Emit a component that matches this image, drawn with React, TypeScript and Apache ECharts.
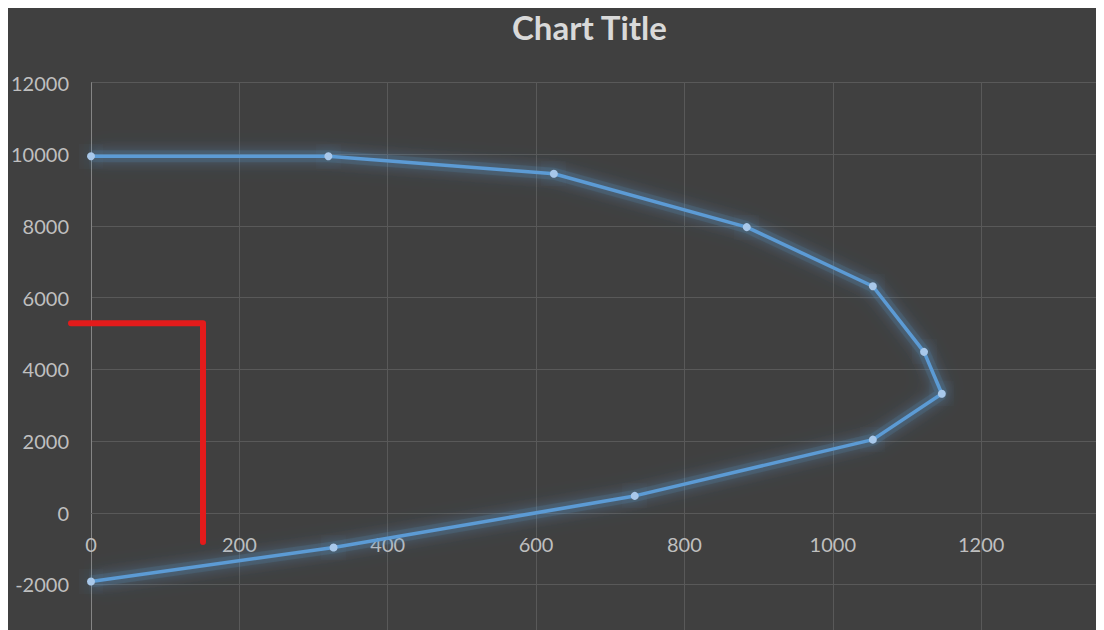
import React, { useEffect, useRef } from "react";
import * as echarts from "echarts";

const xValues = [0, 320, 624, 884, 1054, 1123, 1147, 1054, 733, 327, 0];
const yValues = [9950, 9950, 9460, 7970, 6320, 4490, 3320, 2040, 470, -970, -1920];
const xTicks = [0, 200, 400, 600, 800, 1000, 1200, 1400];
const yTicks = [-4000, -2000, 0, 2000, 4000, 6000, 8000, 10000, 12000];
const titleText = "Chart Title";

const SHIFT_Y = 20;
const CHART_W = 1140;
const CHART_H = 700;
const GRID_TOP = 74.7 + SHIFT_Y;
const GRID_BOTTOM = 31.9;

export default function App() {
  const ref = useRef<HTMLDivElement>(null);
  useEffect(() => {
    if (!ref.current) return;
    const chart = echarts.init(ref.current, null, { renderer: "svg" });
    const points = xValues.map((x, i) => [x, yValues[i]]);
    const yMin = yTicks[0];
    const yMax = yTicks[yTicks.length - 1];
    const gridH = CHART_H - GRID_TOP - GRID_BOTTOM;
    // distance from grid bottom up to the value-0 line
    const zeroOffset = (gridH * (0 - yMin)) / (yMax - yMin);
    chart.setOption({
      animation: false,
      backgroundColor: "#404040",
      title: {
        text: titleText,
        left: 499,
        top: 5 - 8 + SHIFT_Y,
        textStyle: { color: "#d9d9d9", fontSize: 33, fontWeight: "bold", fontFamily: "Lato" },
      },
      grid: { left: 79.7, top: GRID_TOP, right: 18.5, bottom: GRID_BOTTOM, containLabel: false },
      xAxis: {
        type: "value",
        position: "bottom",
        offset: -zeroOffset,
        min: xTicks[0],
        max: xTicks[xTicks.length - 1],
        interval: 200,
        axisLine: { show: true, onZero: false, lineStyle: { color: "#595959", width: 1 } },
        axisTick: { show: false },
        axisLabel: {
          color: "#bfbfbf",
          fontSize: 20,
          fontFamily: "Lato",
          margin: 21,
          showMaxLabel: false,
          formatter: (v: number) => String(v),
        },
        splitLine: { show: true, lineStyle: { color: "#595959", width: 1 } },
      },
      yAxis: {
        type: "value",
        min: yMin,
        max: yMax,
        interval: 2000,
        axisLine: { show: true, onZero: false, lineStyle: { color: "#858585", width: 1 } },
        axisTick: { show: false },
        axisLabel: {
          color: "#bfbfbf",
          fontSize: 20,
          fontFamily: "Lato",
          margin: 22,
          showMinLabel: false,
          formatter: (v: number) => String(v),
        },
        splitLine: { show: true, lineStyle: { color: "#595959", width: 1 } },
      },
      series: [
        {
          type: "line",
          data: points,
          symbol: "none",
          silent: true,
          lineStyle: {
            color: "rgba(91,155,213,0.14)",
            width: 12,
            shadowBlur: 24,
            shadowColor: "rgba(91,155,213,0.6)",
          },
          emphasis: { disabled: true },
          tooltip: { show: false },
          z: 2,
        },
        {
          type: "line",
          data: points,
          symbol: "circle",
          symbolSize: 8,
          lineStyle: {
            color: "#5b9bd5",
            width: 3.5,
            shadowBlur: 14,
            shadowColor: "rgba(91,155,213,1)",
          },
          itemStyle: {
            color: "#a8c8ea",
            borderWidth: 0,
            shadowBlur: 22,
            shadowColor: "rgba(91,155,213,1)",
          },
          emphasis: { disabled: true },
          z: 3,
        },
      ],
      graphic: [
        {
          type: "polyline",
          shape: {
            points: [
              [63, 315.3 + SHIFT_Y],
              [195, 315.3 + SHIFT_Y],
              [195, 534 + SHIFT_Y],
            ],
          },
          style: { stroke: "#e31b1b", lineWidth: 6, fill: null, lineCap: "round", lineJoin: "round" },
          z: 100,
        },
      ],
    });
    return () => chart.dispose();
  }, []);
  return (
    <div style={{ width: 1096, height: 622, overflow: "hidden", position: "relative" }}>
      <div ref={ref} style={{ width: CHART_W, height: CHART_H, position: "absolute", left: 0, top: -SHIFT_Y }} />
    </div>
  );
}
